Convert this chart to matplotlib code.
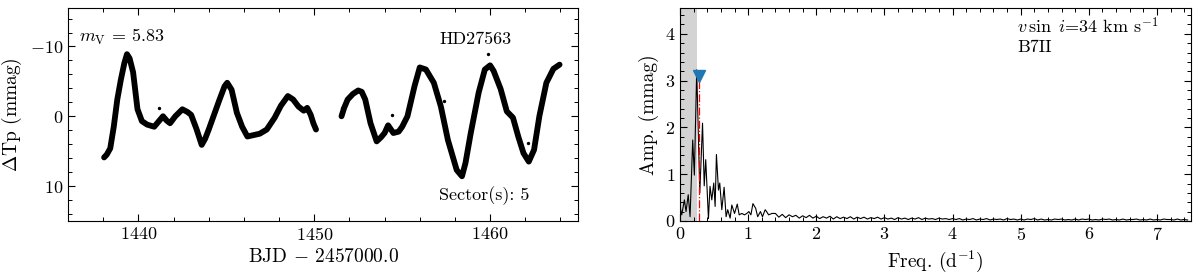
import matplotlib
matplotlib.use("Agg")
import matplotlib.pyplot as plt
import numpy as np
from matplotlib.ticker import MultipleLocator

plt.rcParams["font.family"] = "serif"
plt.rcParams["font.serif"] = ["cmr10"]
plt.rcParams["mathtext.fontset"] = "cm"
plt.rcParams["axes.formatter.use_mathtext"] = True

# light curve, two TESS orbits
t1 = [1438.05, 1438.2, 1438.4, 1438.6, 1438.8, 1439.0, 1439.2, 1439.35, 1439.5, 1439.7,
      1439.95, 1440.2, 1440.5, 1440.9, 1441.2, 1441.4, 1441.6, 1441.8, 1442.1, 1442.5,
      1442.8, 1443.0, 1443.3, 1443.6, 1443.8, 1444.0, 1444.3, 1444.6, 1444.9, 1445.05,
      1445.3, 1445.6, 1445.9, 1446.2, 1446.55, 1446.9, 1447.3, 1447.75, 1448.1, 1448.5,
      1448.8, 1449.1, 1449.4, 1449.6, 1449.8, 1449.95, 1450.1]
m1 = [5.9, 5.5, 4.6, 1.5, -2.4, -5.2, -7.6, -8.9, -8.3, -6.3,
      -1.0, 0.7, 1.2, 1.5, 0.6, 0.0, 0.6, 1.0, 0.0, -1.0,
      -0.6, -0.2, 1.8, 4.1, 3.2, 1.9, -0.2, -2.3, -4.3, -4.8,
      -3.8, -0.5, 1.5, 2.9, 2.7, 2.5, 1.9, 0.2, -1.5, -2.9,
      -2.4, -1.4, -0.8, -1.2, -0.2, 1.0, 1.9]

t2 = [1451.55, 1451.7, 1451.9, 1452.2, 1452.5, 1452.7, 1452.9, 1453.2, 1453.55, 1453.8,
      1454.0, 1454.2, 1454.5, 1454.8, 1455.0, 1455.3, 1455.7, 1456.0, 1456.35, 1456.8,
      1457.2, 1457.6, 1458.1, 1458.4, 1458.6, 1458.9, 1459.35, 1459.7, 1460.0, 1460.2,
      1460.6, 1460.95, 1461.3, 1461.6, 1461.9, 1462.2, 1462.5, 1462.8, 1463.2, 1463.6,
      1463.95]
m2 = [0.0, -1.2, -2.4, -3.2, -3.7, -3.5, -2.4, 1.0, 3.6, 3.0,
      2.4, 1.3, 2.4, 2.2, 1.5, 0.0, -4.3, -7.0, -6.7, -4.8,
      -1.4, 3.4, 7.7, 8.6, 6.7, 2.4, -3.4, -6.7, -7.3, -6.5,
      -3.9, -0.7, 0.2, 2.9, 5.3, 6.5, 4.8, 0.0, -4.8, -6.8,
      -7.4]

# scattered outlier points
t_out = [1441.2, 1451.6, 1454.4, 1457.4, 1459.9, 1460.55, 1462.15, 1449.0]
m_out = [-1.2, -1.2, -0.2, -2.2, -8.9, -3.9, 3.8, -1.8]

# amplitude spectrum, low-frequency part
f_low = [0.0, 0.025, 0.064, 0.088, 0.12, 0.147, 0.186, 0.21, 0.245, 0.29,
         0.33, 0.355, 0.377, 0.417, 0.44, 0.466, 0.495, 0.515, 0.534, 0.564,
         0.583, 0.613, 0.647, 0.676, 0.70, 0.735, 0.76, 0.80, 0.84, 0.868,
         0.907, 0.946, 0.98, 1.01, 1.04, 1.07, 1.11, 1.14, 1.18, 1.21,
         1.25, 1.27, 1.30, 1.35]
a_low = [0.31, 0.13, 0.45, 0.20, 0.56, 0.09, 1.73, 0.98, 3.23, 0.60,
         2.09, 0.75, 1.31, 0.05, 0.74, 0.45, 0.81, 0.31, 1.42, 0.66,
         0.81, 0.24, 0.72, 0.09, 0.24, 0.06, 0.34, 0.16, 0.36, 0.13,
         0.16, 0.13, 0.16, 0.20, 0.13, 0.37, 0.27, 0.09, 0.20, 0.09,
         0.24, 0.20, 0.13, 0.16]

# amplitude spectrum, noise tail from 1.40 to 7.45 d-1
a_tail = [0.16, 0.08, 0.14, 0.07, 0.13, 0.09, 0.12, 0.06, 0.11, 0.07, 0.12, 0.06,
          0.10, 0.05, 0.09, 0.06, 0.10, 0.04, 0.09, 0.05, 0.08, 0.05,
          0.09, 0.04, 0.08, 0.05, 0.08, 0.04, 0.07, 0.05, 0.08, 0.04,
          0.07, 0.04, 0.06, 0.03, 0.07, 0.04, 0.06, 0.03, 0.06, 0.04,
          0.07, 0.03, 0.06, 0.04, 0.05, 0.03, 0.06, 0.04, 0.05, 0.03,
          0.05, 0.03, 0.05, 0.02, 0.04, 0.03, 0.05, 0.02, 0.04, 0.03,
          0.05, 0.02, 0.04, 0.03, 0.04, 0.02, 0.05, 0.03, 0.04, 0.02,
          0.04, 0.02, 0.04, 0.03, 0.05, 0.02, 0.04, 0.02, 0.03, 0.02,
          0.04, 0.03, 0.04, 0.02, 0.03, 0.02, 0.04, 0.02, 0.04, 0.03,
          0.04, 0.02, 0.03, 0.02, 0.04, 0.03, 0.04, 0.02, 0.03, 0.02,
          0.04, 0.02, 0.03, 0.03, 0.04, 0.02, 0.03, 0.02, 0.04, 0.02,
          0.03, 0.02, 0.04, 0.03, 0.03, 0.02, 0.04, 0.02, 0.03, 0.02]
f_tail = np.linspace(1.40, 7.45, len(a_tail))

freq = np.concatenate([f_low, f_tail])
amp = np.concatenate([a_low, a_tail])

f_peak = 0.284
a_peak = 3.0
f_mask = 0.25

fig = plt.figure(figsize=(12, 2.8), dpi=100)
ax1 = fig.add_axes([0.0567, 0.211, 0.425, 0.760])
ax2 = fig.add_axes([0.5667, 0.211, 0.4258, 0.760])

ax1.plot(t1, m1, color="k", lw=4.2, solid_capstyle="round", solid_joinstyle="round")
ax1.plot(t2, m2, color="k", lw=4.2, solid_capstyle="round", solid_joinstyle="round")
ax1.scatter(t_out, m_out, s=2, color="k")
ax1.set_xlim(1436, 1465)
ax1.set_ylim(15, -15.5)
ax1.xaxis.set_major_locator(MultipleLocator(10))
ax1.xaxis.set_minor_locator(MultipleLocator(2))
ax1.yaxis.set_major_locator(MultipleLocator(10))
ax1.yaxis.set_minor_locator(MultipleLocator(2))
ax1.set_xlabel(r"BJD $-$ 2457000.0", fontsize=14)
ax1.set_ylabel(r"$\Delta$Tp (mmag)", fontsize=14)
ax1.text(0.022, 0.865, r"$m_{\rm V}$ = 5.83", transform=ax1.transAxes,
         fontsize=13, va="center", ha="left")
ax1.text(0.80, 0.855, "HD27563", transform=ax1.transAxes,
         fontsize=13, va="center", ha="center")
ax1.text(0.815, 0.12, "Sector(s): 5", transform=ax1.transAxes,
         fontsize=13, va="center", ha="center")

ax2.axvspan(0, f_mask, color="lightgray", lw=0)
ax2.plot(freq, amp, color="k", lw=0.8)
ax2.plot([f_peak, f_peak], [0, a_peak], color="red", ls="-.", lw=0.9)
ax2.plot(f_peak, 3.09, marker="v", color="#1f77b4", ms=9, ls="none")
ax2.set_xlim(0, 7.5)
ax2.set_ylim(0, 4.55)
ax2.xaxis.set_major_locator(MultipleLocator(1))
ax2.xaxis.set_minor_locator(MultipleLocator(0.2))
ax2.yaxis.set_major_locator(MultipleLocator(1))
ax2.yaxis.set_minor_locator(MultipleLocator(0.2))
ax2.set_xlabel(r"Freq. (d$^{-1}$)", fontsize=14)
ax2.set_ylabel("Amp. (mmag)", fontsize=14)
ax2.text(0.66, 0.917, r"$v\,\sin\ i$=34 km s$^{-1}$", transform=ax2.transAxes,
         fontsize=13, va="center", ha="left")
ax2.text(0.66, 0.818, "B7II", transform=ax2.transAxes,
         fontsize=13, va="center", ha="left")

for ax in (ax1, ax2):
    ax.tick_params(which="both", direction="in", top=True, right=True, labelsize=13)
    ax.tick_params(which="major", length=5, width=0.8)
    ax.tick_params(which="minor", length=3, width=0.7)

fig.savefig("out.png", dpi=100)
